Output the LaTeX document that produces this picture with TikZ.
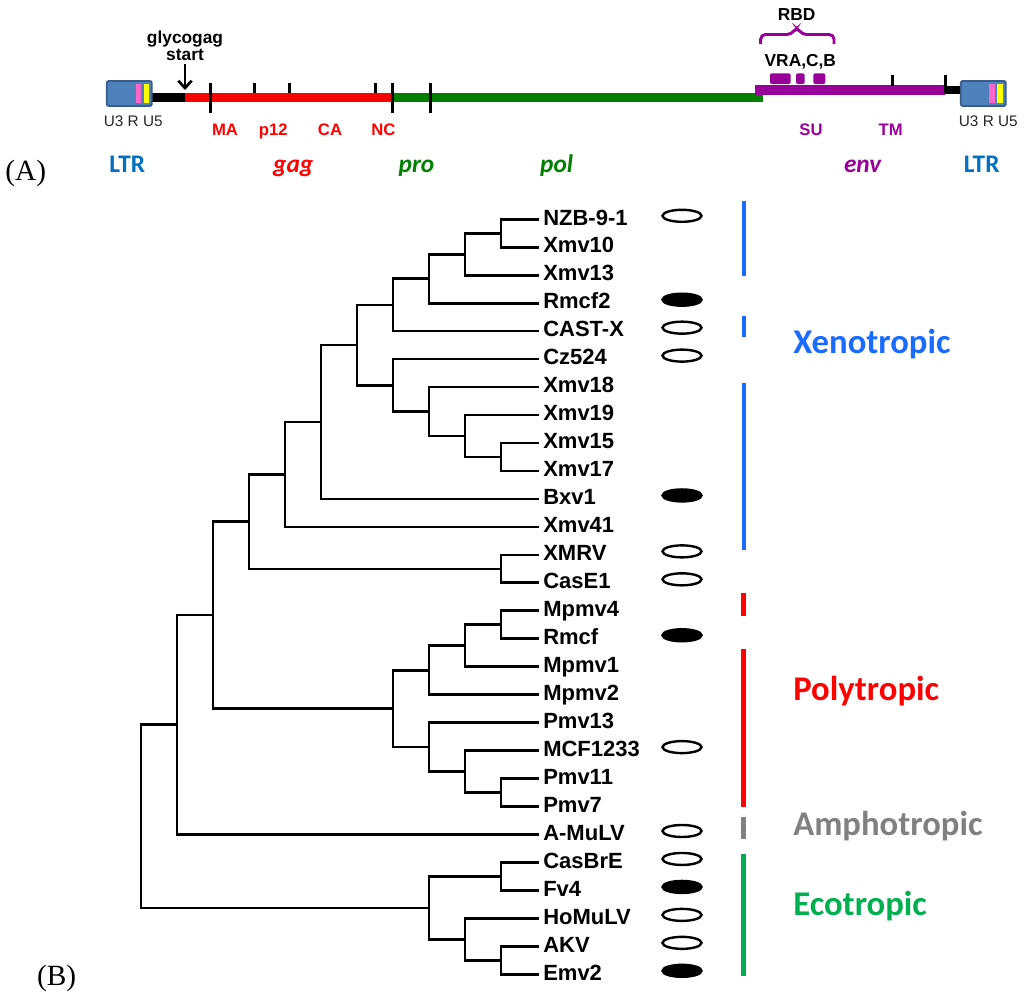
\documentclass[tikz,border=0pt]{standalone}
\usepackage{fontspec}
\setmainfont{Liberation Serif}
\newfontfamily\arialf{Liberation Sans}
\newfontfamily\calf{Carlito}
\usetikzlibrary{shapes.geometric,arrows.meta}
\definecolor{xblue}{HTML}{1A6BFF}
\definecolor{pred}{HTML}{FF0000}
\definecolor{agray}{HTML}{808080}
\definecolor{egreen}{HTML}{00B050}
\definecolor{ltrblue}{HTML}{0070C0}
\definecolor{progreen}{HTML}{008000}
\definecolor{envpurple}{HTML}{990099}
\definecolor{ltrfill}{HTML}{4F81BD}
\definecolor{ltrborder}{HTML}{385D8A}
\definecolor{pinkc}{HTML}{FF66CC}
\definecolor{yellowc}{HTML}{FFFF00}
\definecolor{utext}{HTML}{262626}
\begin{document}
\begin{tikzpicture}[x=0.75pt,y=-0.75pt,
  leaflabel/.style={font=\arialf\bfseries\fontsize{16.5}{18}\selectfont, anchor=base west, inner sep=0pt},
  branch/.style={line width=2pt, line cap=rect, line join=miter},
  oval/.style={ellipse, draw, line width=1.8pt, minimum width=29.25pt, minimum height=9pt, inner sep=0pt},
  ovalfull/.style={oval, fill=black},
  grouplabel/.style={font=\calf\bfseries\fontsize{26}{30}\selectfont, anchor=base west, inner sep=0pt},
  groupbar/.style={line width=3.2pt},
  genelabel/.style={font=\calf\bfseries\fontsize{19}{22}\selectfont, anchor=base, inner sep=0pt},
  geneit/.style={genelabel, font=\calf\bfseries\itshape\fontsize{19}{22}\selectfont},
  sublabel/.style={font=\arialf\bfseries\fontsize{12.5}{14}\selectfont, anchor=base, inner sep=0pt},
  ulabel/.style={font=\arialf\fontsize{11.5}{13}\selectfont, anchor=base, inner sep=0pt, text=utext},
  blacklabel/.style={font=\arialf\bfseries\fontsize{13}{12.5}\selectfont, inner sep=0pt},
  panel/.style={font=\fontsize{22}{24}\selectfont, anchor=base, inner sep=0pt},
  tick/.style={line width=1.9pt, black},
  ltrbox/.style={draw=ltrborder, fill=ltrfill, line width=1.4pt, rounded corners=1.5pt, minimum width=33.75pt, minimum height=18.75pt, inner sep=0pt}
]
\useasboundingbox (0,0) rectangle (1024,997);

% ---------------- (A) genome map ----------------
\draw[line width=7pt, black] (150,97.5) -- (185,97.5);
\draw[line width=7pt, pred] (185,97.5) -- (393,97.5);
\draw[line width=6.8pt, progreen] (393,97.5) -- (762.7,97.5);
\draw[line width=7pt, envpurple] (755,90) -- (945,90);
\draw[line width=6pt, black] (945,89.7) -- (963,89.7);

% LTR boxes
\node[ltrbox] (ltrL) at (129.3,93.5) {};
\fill[pinkc] (135.7,84) rectangle (141,103);
\fill[yellowc] (143.5,84) rectangle (149.3,103);
\node[ltrbox] (ltrR) at (983.3,93.5) {};
\fill[pinkc] (989.3,84) rectangle (994.5,103);
\fill[yellowc] (997.3,84) rectangle (1002.7,103);

% ticks
\draw[tick] (210.7,82.7) -- (210.7,112.7);
\draw[tick] (254.7,82.7) -- (254.7,93);
\draw[tick] (289.3,82.7) -- (289.3,93);
\draw[tick] (375.7,82.7) -- (375.7,93);
\draw[tick] (392.7,82.7) -- (392.7,112.7);
\draw[tick] (430.7,82.7) -- (430.7,112.7);
\draw[tick] (892.3,75) -- (892.3,86);
\draw[tick] (945.3,75) -- (945.3,93);

% VR blocks
\fill[envpurple, rounded corners=1.5pt] (770,73.3) rectangle (790.7,84);
\fill[envpurple, rounded corners=1.5pt] (796,73.3) rectangle (804.7,84);
\fill[envpurple, rounded corners=1.5pt] (813.3,73.3) rectangle (825.3,84);

% RBD brace
\draw[envpurple, line width=2.2pt, rounded corners=3.5pt] (760.7,44) -- (760.7,34.5) -- (791.5,34.5) -- (796.7,27) -- (801.9,34.5) -- (834,34.5) -- (834,44);
\node[blacklabel, anchor=base] (rbd) at (796.7,20.7) {RBD};
\node[blacklabel, anchor=base] (vra) at (800.3,66.5) {VRA,C,B};

% glycogag start
\node[blacklabel, align=center, anchor=north] (glyco) at (185,31) {glycogag\\start};
\coordinate (gstart) at (185,90);
\draw[line width=2pt, -{Straight Barb[length=5.5pt,width=10pt]}] (glyco.south) ++(0,3) -- (gstart);

% U3 R U5
\node[ulabel] (uL) at (133.3,126) {U3 R U5};
\node[ulabel] (uR) at (988.3,126) {U3 R U5};

% subunit labels
\node[sublabel, text=pred] (ma) at (225,135) {MA};
\node[sublabel, text=pred] (p12) at (273.3,135) {p12};
\node[sublabel, text=pred] (ca) at (330,135) {CA};
\node[sublabel, text=pred] (nc) at (383.3,135) {NC};
\node[sublabel, text=envpurple] (su) at (811,135) {SU};
\node[sublabel, text=envpurple] (tm) at (890.7,135) {TM};

% gene labels
\node[genelabel, text=ltrblue] (gltrL) at (127.3,172.7) {LTR};
\node[geneit, text=pred] (ggag) at (293.3,172.7) {gag};
\node[geneit, text=progreen] (gpro) at (416.5,172.7) {pro};
\node[geneit, text=progreen] (gpol) at (556.7,172.7) {pol};
\node[geneit, text=envpurple] (genv) at (862.7,172.7) {env};
\node[genelabel, text=ltrblue] (gltrR) at (981.7,172.7) {LTR};

\node[panel] (pA) at (25.8,180.7) {(A)};
\node[panel] (pB) at (56.7,985.7) {(B)};

% ---------------- (B) tree ----------------
\foreach \i/\lab in {0/NZB-9-1,1/Xmv10,2/Xmv13,3/Rmcf2,4/CAST-X,5/Cz524,6/Xmv18,7/Xmv19,8/Xmv15,9/Xmv17,10/Bxv1,11/Xmv41,12/XMRV,13/CasE1,14/Mpmv4,15/Rmcf,16/Mpmv1,17/Mpmv2,18/Pmv13,19/MCF1233,20/Pmv11,21/Pmv7,22/A-MuLV,23/CasBrE,24/Fv4,25/HoMuLV,26/AKV,27/Emv2}{
  \coordinate (l\i) at (538,{219.3+27.963*\i});
  \node[leaflabel] (t\i) at (543,{225+27.963*\i}) {\lab};
}

\coordinate (a1) at (501,233.3);
\coordinate (a2) at (465,254.25);
\coordinate (a3) at (429,278.7);
\coordinate (a4) at (393,304.95);
\coordinate (b1) at (501,457);
\coordinate (b2) at (465,436);
\coordinate (b3) at (429,411.55);
\coordinate (b4) at (393,385.3);
\coordinate (c1) at (357,345.1);
\coordinate (c2) at (321,422);
\coordinate (c3) at (285,474.45);
\coordinate (x1) at (501,568.85);
\coordinate (c4) at (249,521.65);
\coordinate (p1) at (501,624.75);
\coordinate (p2) at (465,645.7);
\coordinate (p3) at (429,670.2);
\coordinate (q1) at (501,792.55);
\coordinate (q2) at (465,771.6);
\coordinate (q3) at (429,747.1);
\coordinate (p4) at (393,708.65);
\coordinate (d1) at (213,615.15);
\coordinate (d2) at (177,724.8);
\coordinate (e1) at (501,876.4);
\coordinate (e2) at (501,960.3);
\coordinate (e3) at (465,939.35);
\coordinate (e4) at (429,907.9);
\coordinate (rt) at (141,816.35);

\foreach \p/\c in {a1/l0,a1/l1,a2/a1,a2/l2,a3/a2,a3/l3,a4/a3,a4/l4,
  b1/l8,b1/l9,b2/l7,b2/b1,b3/l6,b3/b2,b4/l5,b4/b3,
  c1/a4,c1/b4,c2/c1,c2/l10,c3/c2,c3/l11,x1/l12,x1/l13,c4/c3,c4/x1,
  p1/l14,p1/l15,p2/p1,p2/l16,p3/p2,p3/l17,q1/l20,q1/l21,q2/l19,q2/q1,q3/l18,q3/q2,p4/p3,p4/q3,
  d1/c4,d1/p4,d2/d1,d2/l22,e1/l23,e1/l24,e2/l26,e2/l27,e3/l25,e3/e2,e4/e1,e4/e3,rt/d2,rt/e4}{
  \draw[branch] (\p) |- (\c);
}

% ovals
\foreach \i in {0,4,5,12,13,19,22,23,25,26}{
  \node[oval] (o\i) at (682,{215.8+27.963*\i}) {};
}
\foreach \i in {3,10,15,24,27}{
  \node[ovalfull] (o\i) at (682,{215.8+27.963*\i}) {};
}

% group bars
\draw[groupbar, xblue] (744,200.7) -- (744,275.7);
\draw[groupbar, xblue] (744,315.7) -- (744,336.7);
\draw[groupbar, xblue] (744,382.7) -- (744,550);
\draw[groupbar, pred] (743.5,593.3) -- (743.5,616);
\draw[groupbar, pred] (743.5,649.3) -- (743.5,807.3);
\draw[groupbar, agray] (743.5,816.7) -- (743.5,839.3);
\draw[groupbar, egreen] (743.5,854) -- (743.5,976);

% group labels
\node[grouplabel, text=xblue] (gx) at (793,353.3) {Xenotropic};
\node[grouplabel, text=pred] (gp) at (793,700) {Polytropic};
\node[grouplabel, text=agray] (ga) at (793,835) {Amphotropic};
\node[grouplabel, text=egreen] (ge) at (793,915) {Ecotropic};
\end{tikzpicture}
\end{document}
